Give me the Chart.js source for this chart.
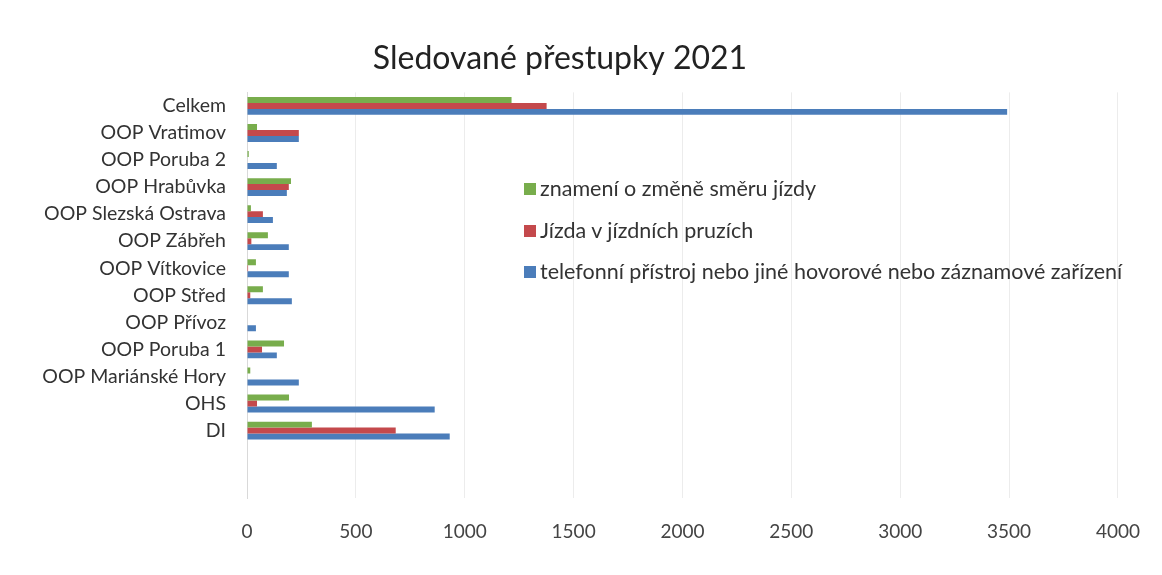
<!DOCTYPE html>
<html>
<head>
<meta charset="utf-8">
<script src="https://cdn.jsdelivr.net/npm/chart.js@4.4.1/dist/chart.umd.min.js"></script>
<style>
  html, body { margin: 0; padding: 0; background: #fff; }
  .wrap { position: relative; width: 1162px; height: 575px; }
  #legend { position: absolute; left: 524px; top: 174px; font-family: Lato, sans-serif; font-size: 21.5px; color: #333; }
  #legend div { height: 41.5px; line-height: 28px; display: flex; align-items: flex-start; white-space: nowrap; }
  #legend span.box { display: inline-block; width: 12px; height: 12px; margin: 9px 4px 0 0; }
</style>
</head>
<body>
<div class="wrap">
  <canvas id="chart" width="1162" height="575"></canvas>
  <div id="legend"></div>
</div>
<script>
"use strict";

//Data
const categories = ["Celkem", "OOP Vratimov", "OOP Poruba 2", "OOP Hrabůvka", "OOP Slezská Ostrava",
  "OOP Zábřeh", "OOP Vítkovice", "OOP Střed", "OOP Přívoz", "OOP Poruba 1", "OOP Mariánské Hory", "OHS", "DI"];
const seriesNames = ["znamení o změně směru jízdy", "Jízda v jízdních pruzích",
  "telefonní přístroj nebo jiné hovorové nebo záznamové zařízení"];
const smerJizdy = [1215, 46, 8, 202, 18, 96, 41, 73, 0, 170, 15, 193, 298];
const jizdniPruhy = [1376, 238, 0, 192, 73, 20, 5, 15, 0, 69, 0, 46, 683];
const telefon = [3491, 238, 137, 183, 119, 192, 192, 206, 41, 137, 238, 862, 931];
const xTicks = [0, 500, 1000, 1500, 2000, 2500, 3000, 3500, 4000];
const colors = ["#78ad4c", "#c4494c", "#4b7dba"];

//the original has two blank rows under DI
const labels = categories.concat(["", ""]);

const chart = new Chart(document.getElementById("chart"), {
  type: "bar",
  data: {
    labels: labels,
    datasets: [smerJizdy, jizdniPruhy, telefon].map((d, i) => ({
      label: seriesNames[i],
      data: d,
      backgroundColor: colors[i],
      categoryPercentage: 0.66,
      barPercentage: 1.0,
    })),
  },
  options: {
    indexAxis: "y",
    responsive: false,
    animation: false,
    layout: { padding: { top: 39, right: 42, bottom: 10, left: 0 } },
    plugins: {
      legend: { display: false },
      tooltip: { enabled: false },
      title: {
        display: true,
        text: "Sledované přestupky 2021",
        color: "#222",
        font: { family: "Lato", size: 32, weight: "normal" },
        padding: { top: 0, bottom: 15 },
      },
    },
    scales: {
      x: {
        min: 0,
        max: 4000,
        afterBuildTicks: (s) => { s.ticks = xTicks.map((v) => ({ value: v })); },
        ticks: { color: "#444", font: { family: "Lato", size: 19 }, padding: 22, callback: (v) => String(v) },
        grid: { color: "#ececec", drawTicks: false },
        border: { display: false },
      },
      y: {
        afterFit: (s) => { s.width = 247; },
        ticks: { color: "#333", font: { family: "Lato", size: 19.5 }, padding: 21, autoSkip: false },
        grid: { display: false, drawTicks: false },
        border: { display: true, color: "#d9d9d9" },
      },
    },
  },
});

//legend
const legend = document.getElementById("legend");
chart.data.datasets.forEach((ds) => {
  const row = document.createElement("div");
  row.innerHTML = '<span class="box" style="background:' + ds.backgroundColor + '"></span>' + ds.label;
  legend.appendChild(row);
});
</script>
</body>
</html>
